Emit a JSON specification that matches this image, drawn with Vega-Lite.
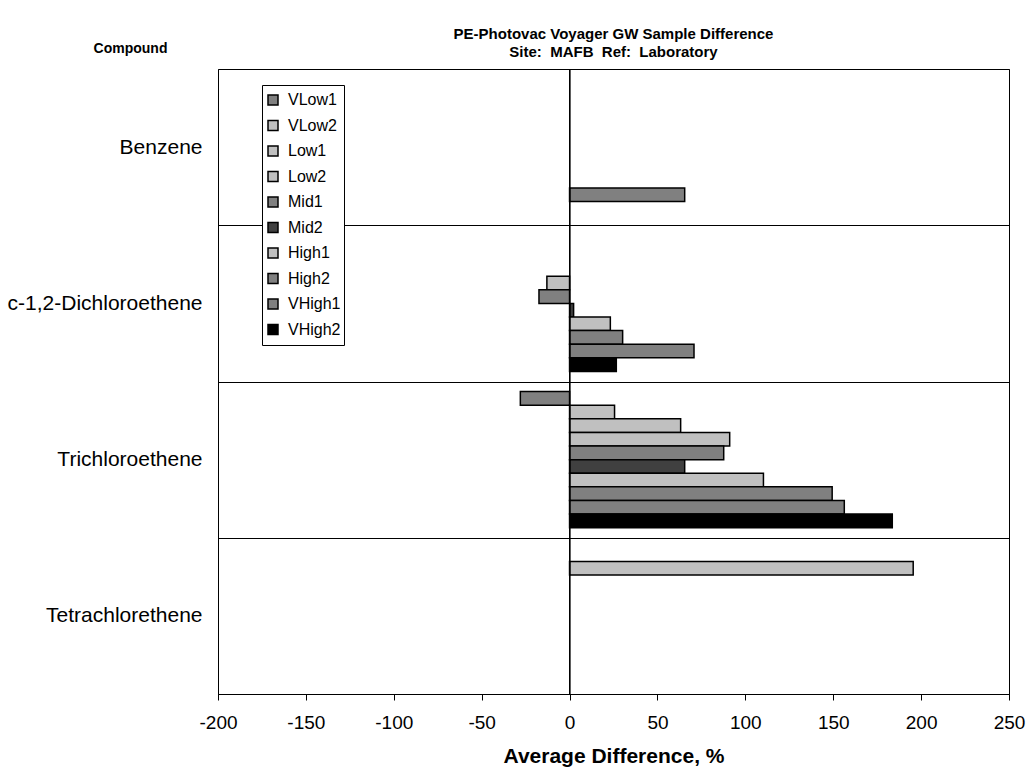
{
  "$schema": "https://vega.github.io/schema/vega-lite/v6.json",
  "width": 791,
  "height": 625,
  "autosize": {"type": "none"},
  "padding": {"left": 218, "top": 69, "right": 22, "bottom": 74},
  "background": "white",
  "config": {"font": "Liberation Sans", "view": {"stroke": "black", "strokeWidth": 1}},
  "title": {
    "text": ["PE-Photovac Voyager GW Sample Difference", "Site:\u00a0 MAFB\u00a0 Ref:\u00a0 Laboratory"],
    "fontSize": 15, "fontWeight": "bold", "lineHeight": 18, "anchor": "middle", "offset": -19, "color": "black", "font": "Liberation Sans"
  },
  "data": {"values": [
    {"compound": "Benzene", "series": "VHigh1", "diff": 65.5},
    {"compound": "c-1,2-Dichloroethene", "series": "Low2", "diff": -12.9},
    {"compound": "c-1,2-Dichloroethene", "series": "Mid1", "diff": -17.4},
    {"compound": "c-1,2-Dichloroethene", "series": "Mid2", "diff": 2.3},
    {"compound": "c-1,2-Dichloroethene", "series": "High1", "diff": 23.2},
    {"compound": "c-1,2-Dichloroethene", "series": "High2", "diff": 30.2},
    {"compound": "c-1,2-Dichloroethene", "series": "VHigh1", "diff": 70.8},
    {"compound": "c-1,2-Dichloroethene", "series": "VHigh2", "diff": 26.6},
    {"compound": "Trichloroethene", "series": "VLow1", "diff": -28.0},
    {"compound": "Trichloroethene", "series": "VLow2", "diff": 25.6},
    {"compound": "Trichloroethene", "series": "Low1", "diff": 63.2},
    {"compound": "Trichloroethene", "series": "Low2", "diff": 91.1},
    {"compound": "Trichloroethene", "series": "Mid1", "diff": 87.7},
    {"compound": "Trichloroethene", "series": "Mid2", "diff": 65.5},
    {"compound": "Trichloroethene", "series": "High1", "diff": 110.3},
    {"compound": "Trichloroethene", "series": "High2", "diff": 149.4},
    {"compound": "Trichloroethene", "series": "VHigh1", "diff": 156.3},
    {"compound": "Trichloroethene", "series": "VHigh2", "diff": 183.6},
    {"compound": "Tetrachlorethene", "series": "VLow2", "diff": 195.5}
  ]},
  "layer": [
    {
      "mark": {"type": "bar", "stroke": "black", "strokeWidth": 1.5},
      "encoding": {
        "y": {
          "field": "compound", "type": "nominal",
          "scale": {"domain": ["Benzene", "c-1,2-Dichloroethene", "Trichloroethene", "Tetrachlorethene"], "paddingInner": 0, "paddingOuter": 0},
          "axis": {
            "title": "Compound", "titleAngle": 0, "titleX": -88, "titleY": -17, "titleAlign": "center", "titleBaseline": "alphabetic",
            "titleFontSize": 14, "titleFontWeight": "bold", "titleColor": "black",
            "labelFontSize": 21, "labelColor": "black", "labelPadding": 16, "labelLimit": 260, "ticks": false, "tickSize": 0,
            "domain": false, "grid": true, "gridColor": "black", "gridWidth": 1, "tickBand": "extent"
          }
        },
        "yOffset": {
          "field": "series", "type": "nominal",
          "scale": {"domain": ["VLow1", "VLow2", "Low1", "Low2", "Mid1", "Mid2", "High1", "High2", "VHigh1", "VHigh2"], "paddingInner": 0, "paddingOuter": 0.74}
        },
        "x": {
          "field": "diff", "type": "quantitative",
          "scale": {"domain": [-200, 250], "nice": false, "zero": false},
          "axis": {
            "title": "Average Difference, %", "titleFontSize": 21, "titleFontWeight": "bold", "titleColor": "black", "titlePadding": 13,
            "values": [-200, -150, -100, -50, 0, 50, 100, 150, 200, 250],
            "labelExpr": "'' + datum.value",
            "labelFontSize": 19, "labelColor": "black", "labelPadding": 13, "tickSize": 6, "tickColor": "black",
            "domainColor": "black", "grid": false, "labelFlush": false, "labelOverlap": false
          }
        },
        "fill": {
          "field": "series", "type": "nominal",
          "scale": {
            "domain": ["VLow1", "VLow2", "Low1", "Low2", "Mid1", "Mid2", "High1", "High2", "VHigh1", "VHigh2"],
            "range": ["#808080", "#c0c0c0", "#c0c0c0", "#c0c0c0", "#808080", "#404040", "#c0c0c0", "#808080", "#808080", "#000000"]
          },
          "legend": {
            "orient": "none", "legendX": 44, "legendY": 16, "title": null, "direction": "vertical",
            "strokeColor": "black", "fillColor": "white", "padding": 3,
            "symbolType": "square", "symbolSize": 100, "symbolStrokeColor": "black", "symbolStrokeWidth": 1.5, "symbolOpacity": 1,
            "labelFontSize": 16, "labelColor": "black", "clipHeight": 24, "rowPadding": 1.5, "labelOffset": 7
          }
        }
      }
    },
    {
      "mark": {"type": "rule", "color": "black", "strokeWidth": 1},
      "encoding": {"x": {"datum": 0}}
    }
  ]
}
